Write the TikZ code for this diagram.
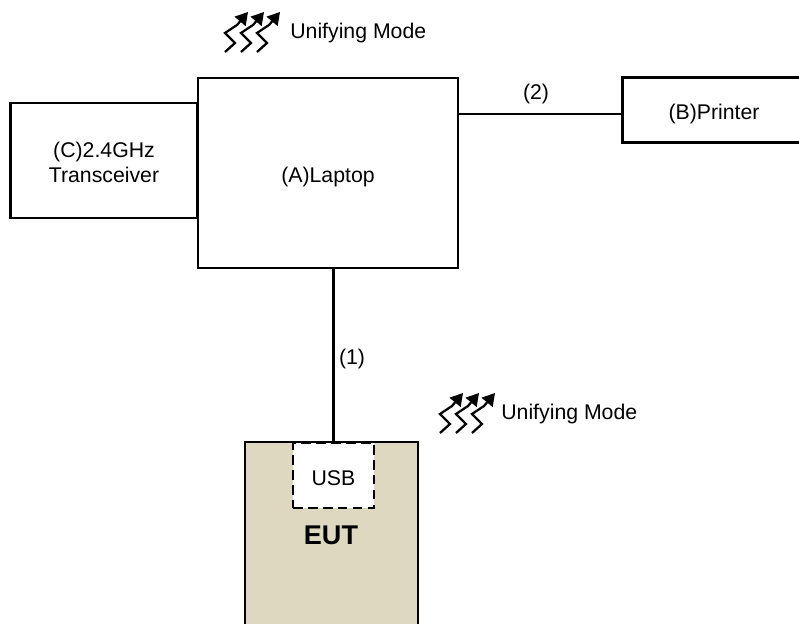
\documentclass[tikz,border=0pt]{standalone}
\usepackage{fontspec}
\setmainfont{Liberation Sans}
\usetikzlibrary{arrows.meta}
\definecolor{eutfill}{RGB}{221,216,191}
\tikzset{
    devicebox/.style={draw,line width=1.5pt,inner sep=0pt},
    plainlabel/.style={inner sep=0pt,align=center,font=\fontsize{12.1}{14.2}\selectfont},
    wave/.style={line width=1.3pt,-{Triangle[length=7pt,width=8pt]}}
}
\newcommand{\wavepic}[1]{
    \foreach \i in {0,16,32} {
        \draw[wave] (#1) ++(\i,0) -- ++(10,-9) -- ++(-10,-10) -- ++(12,-8) -- ++(11,-13);
    }
}
\begin{document}
\begin{tikzpicture}[x=0.02cm,y=-0.02cm]
            \useasboundingbox (0,0) rectangle (799,623);

            % Geraete
            \node[devicebox,minimum width=5.2cm,minimum height=3.8cm] (laptop) at (328,173) {};
            \node[plainlabel] (laptoptext) at (328,177) {(A)Laptop};
            \node[devicebox,minimum width=3.74cm,minimum height=2.3cm] (trans) at (104,160.5) {};
            \node[plainlabel] (transtext) at (104,162) {(C)2.4GHz\\Transceiver};
            \node[devicebox,minimum width=3.72cm,minimum height=1.3cm,anchor=west] (printer) at (621,110) {};
            \node[plainlabel] (printertext) at (714,114) {(B)Printer};

            % EUT
            \draw[line width=1.5pt,fill=eutfill] (245,630) -- (245,442) -- (418,442) -- (418,630);
            \coordinate (euttop) at (333.5,442);
            \node[draw,dash pattern=on 5.5pt off 3pt,line width=1.5pt,fill=white,minimum width=1.62cm,minimum height=1.3cm,inner sep=0pt] (usb) at (333.5,475.5) {};
            \node[plainlabel] (usbtext) at (333.5,478) {USB};
            \node[plainlabel,font=\fontsize{15.4}{18}\selectfont\bfseries] (eut) at (331,535) {EUT};

            % Leitungen
            \coordinate (laptopeast) at (458,114);
            \draw[line width=1.5pt] (laptopeast) -- (laptopeast -| printer.west);
            \draw[line width=1.5pt] (euttop |- laptop.south) -- (euttop);
            \node[plainlabel] (label2) at (536,94) {(2)};
            \node[plainlabel] (label1) at (352,359) {(1)};

            % Funk
            \wavepic{225,52}
            \node[plainlabel,anchor=west] (modetop) at (290,33) {Unifying Mode};
            \wavepic{440,433}
            \node[plainlabel,anchor=west] (modebottom) at (501,414) {Unifying Mode};
        \end{tikzpicture}
\end{document}
